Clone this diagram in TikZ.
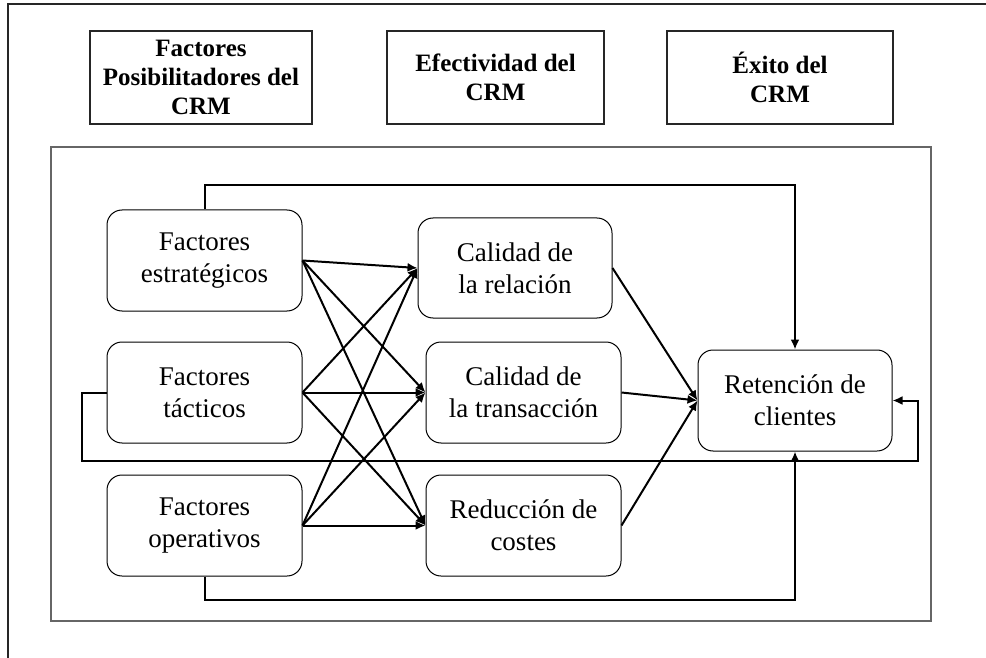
\documentclass[tikz,border=0pt]{standalone}
\usepackage{fontspec}
\setmainfont{Liberation Serif}
\usetikzlibrary{arrows.meta}
\begin{document}
\begin{tikzpicture}[x=1pt,y=-1pt,
  hdrbox/.style={draw=black!85,line width=1.3pt,inner sep=0pt,align=center,
    font=\fontsize{25}{29}\selectfont\bfseries},
  rbox/.style={draw=black,line width=1pt,rounded corners=15pt,inner sep=0pt,align=center,
    minimum height=101pt,font=\fontsize{27}{32}\selectfont},
  conn/.style={line width=2pt,-{Latex[length=10pt,width=9pt]}},
  loopline/.style={line width=2pt}]
\useasboundingbox (0,0) rectangle (986,658);
% outer frame (open on right and bottom)
\draw[line width=1.5pt,black!85] (8,658) -- (8,4) -- (986,4);
% inner frame
\draw[line width=1.5pt,black!60] (51,147) rectangle (931,621);
% header boxes
\node[hdrbox,minimum width=222pt,minimum height=93pt] (h1) at (201,77.5) {Factores\\Posibilitadores del\\CRM};
\node[hdrbox,minimum width=217pt,minimum height=93pt] (h2) at (495.5,77.5) {Efectividad del\\CRM};
\node[hdrbox,minimum width=226pt,minimum height=93pt] (h3) at (780,77.5) {Éxito del\\CRM};
% rounded boxes
\node[rbox,minimum width=195pt] (est) at (204.5,260.5) {Factores\\estratégicos};
\node[rbox,minimum width=195pt] (tac) at (204.5,392.5) {Factores\\tácticos};
\node[rbox,minimum width=195pt] (ope) at (204.5,525.5) {Factores\\operativos};
\node[rbox,minimum width=194pt,minimum height=100pt] (rel) at (515,268) {Calidad de\\la relación};
\node[rbox,minimum width=195pt] (tra) at (523.5,392.5) {Calidad de\\la transacción};
\node[rbox,minimum width=195pt] (red) at (523.5,525.5) {Reducción de\\costes};
\node[rbox,minimum width=194pt] (ret) at (795,400.5) {Retención de\\clientes};
% coordinates for loops
\coordinate (tl1) at (est.north |- 0,185);
\coordinate (tl2) at (ret.north |- 0,185);
\coordinate (ll1) at (82,392.5);
\coordinate (ll2) at (82,461);
\coordinate (ll3) at (918,461);
\coordinate (ll4) at (918,400.5);
\coordinate (bl1) at (ope.south |- 0,600);
\coordinate (bl2) at (ret.south |- 0,600);
% left to middle
\foreach \s in {est,tac,ope}{
  \foreach \t in {rel,tra,red}{
    \draw[conn] (\s.east) -- (\t.west);
  }
}
% middle to retention
\foreach \s in {rel,tra,red}{
  \draw[conn] (\s.east) -- (ret.west);
}
% loops
\draw[conn] (est.north) -- (tl1) -- (tl2) -- (ret.north);
\draw[conn] (tac.west) -- (ll1) -- (ll2) -- (ll3) -- (ll4) -- (ret.east);
\draw[conn] (ope.south) -- (bl1) -- (bl2) -- (ret.south);
\end{tikzpicture}
\end{document}
